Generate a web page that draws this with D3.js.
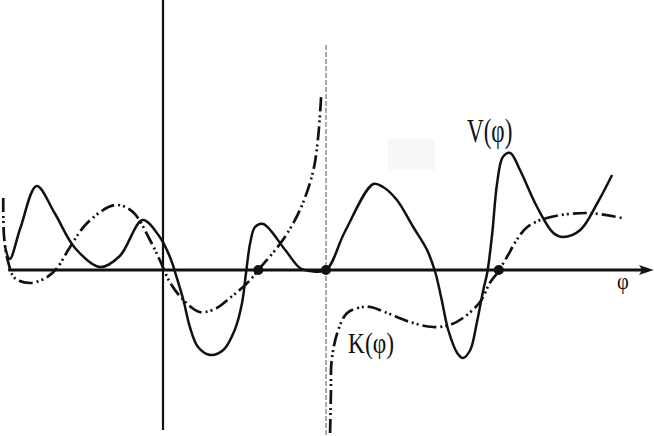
<!DOCTYPE html>
<html lang="en">
<head>
    <meta charset="UTF-8">
    <title>V(φ) and K(φ)</title>
    <script src="https://cdn.jsdelivr.net/npm/d3@7"></script>
    <style>
        body { margin: 0; background: #fff; }
        svg { display: block; }
        text { font-family: "Liberation Serif", "DejaVu Serif", serif; fill: #111; }
    </style>
</head>
<body>
<div id="d3"></div>
<script>
    var width = 654;
    var height = 436;

    // V(φ): solid curve
    var vPhi = [-1.94, -1.88, -1.75, -1.55, -1.33, -1.08, -0.77, -0.53, -0.25, -0.04,
                0.09, 0.17, 0.25, 0.33, 0.43, 0.58, 0.74, 0.88, 0.97, 1.02,
                1.07, 1.13, 1.23, 1.50, 1.68, 1.80, 2.00, 2.23, 2.58, 2.70,
                2.87, 3.07, 3.24, 3.34, 3.42, 3.50, 3.61, 3.68, 3.77, 3.85,
                3.93, 3.98, 4.04, 4.10, 4.17, 4.26, 4.38, 4.59, 4.79, 4.91,
                5.12, 5.33, 5.51];
    var vVal = [0.48, 0.22, 0.84, 1.68, 1.14, 0.44, 0.06, 0.28, 1.00, 0.66,
                0.24, -0.16, -0.60, -1.14, -1.54, -1.70, -1.60, -1.20, -0.66, -0.04,
                0.54, 0.86, 0.92, 0.40, 0.04, -0.02, 0.00, 0.76, 1.72, 1.66,
                1.40, 0.86, 0.40, -0.04, -0.60, -1.20, -1.66, -1.76, -1.60, -1.06,
                -0.40, -0.04, 0.74, 1.74, 2.26, 2.34, 2.00, 1.26, 0.74, 0.66,
                0.80, 1.34, 1.90];

    // K(φ): dash-dot curve, two branches either side of the pole at φ = 2
    var kLeftPhi = [-1.96, -1.95, -1.90, -1.82, -1.63, -1.42, -1.30, -1.14, -0.93, -0.59,
                    -0.37, -0.16, -0.04, 0.09, 0.25, 0.45, 0.66, 0.82, 0.94, 1.07,
                    1.17, 1.47, 1.68, 1.84, 1.90, 1.94];
    var kLeftVal = [1.44, 0.66, 0.16, -0.16, -0.26, -0.14, 0.04, 0.46, 0.94, 1.30,
                    1.16, 0.60, 0.20, -0.26, -0.60, -0.84, -0.76, -0.56, -0.40, -0.20,
                    0.00, 0.60, 1.20, 1.96, 2.60, 3.46];
    var kRightPhi = [2.05, 2.06, 2.07, 2.15, 2.26, 2.45, 2.55, 2.75, 3.03, 3.31,
                     3.52, 3.68, 3.89, 4.01, 4.11, 4.22, 4.34, 4.47, 4.71, 5.20,
                     5.63];
    var kRightVal = [-3.26, -2.50, -1.80, -1.20, -0.86, -0.74, -0.74, -0.86, -1.04, -1.14,
                     -1.10, -0.96, -0.64, -0.26, -0.04, 0.26, 0.60, 0.86, 1.04, 1.14,
                     1.04];

    // marked points on the φ axis and the pole
    var dotPhi = [1.17, 2.00, 4.12];
    var polePhi = 2.0;
    var labels = ["V(φ)", "K(φ)", "φ"];

    var x = d3.scaleLinear().domain([-2, 6]).range([0, 652]);
    var y = d3.scaleLinear().domain([-3, 3]).range([420, 120]);

    var svg = d3.select("#d3")
            .append("svg")
            .attr("width", width)
            .attr("height", height);

    var line = d3.line()
            .x(function (d) { return x(d[0]); })
            .y(function (d) { return y(d[1]); })
            .curve(d3.curveCatmullRom.alpha(0.5));

    // faint scan patch near the label
    svg.append("rect")
            .attr("x", x(2.76)).attr("y", y(2.62))
            .attr("width", 47).attr("height", 31)
            .attr("fill", "#f7f7f7");

    // axes
    svg.append("line")
            .attr("x1", x(0)).attr("x2", x(0))
            .attr("y1", y(5.4)).attr("y2", y(-3.2))
            .attr("stroke", "#111").attr("stroke-width", 2.2);

    svg.append("line")
            .attr("x1", x(polePhi)).attr("x2", x(polePhi))
            .attr("y1", y(4.5)).attr("y2", y(-3.4))
            .attr("stroke", "#555").attr("stroke-width", 1)
            .attr("stroke-dasharray", "5,2");

    svg.append("line")
            .attr("x1", x(-1.9)).attr("x2", x(5.88))
            .attr("y1", y(0)).attr("y2", y(0))
            .attr("stroke", "#111").attr("stroke-width", 3);

    svg.append("path")
            .attr("d", "M" + x(6.02) + "," + y(0) +
                    "L" + x(5.84) + "," + (y(0) - 5) +
                    "L" + x(5.88) + "," + y(0) +
                    "L" + x(5.84) + "," + (y(0) + 5) + "Z")
            .attr("fill", "#111");

    // curves
    [d3.zip(kLeftPhi, kLeftVal), d3.zip(kRightPhi, kRightVal)].forEach(function (pts) {
        svg.append("path")
                .datum(pts)
                .attr("d", line)
                .attr("fill", "none")
                .attr("stroke", "#111").attr("stroke-width", 2.7)
                .attr("stroke-dasharray", "14,4,2,3,2,4");
    });

    svg.append("path")
            .datum(d3.zip(vPhi, vVal))
            .attr("d", line)
            .attr("fill", "none")
            .attr("stroke", "#111").attr("stroke-width", 2.5)
            .attr("stroke-linejoin", "round");

    svg.selectAll("circle")
            .data(dotPhi)
            .enter()
            .append("circle")
            .attr("cx", function (d) { return x(d); })
            .attr("cy", y(0))
            .attr("r", 5)
            .attr("fill", "#111");

    // labels (condensed serif, as in the original figure)
    function label(t, px, py, size, sx) {
        svg.append("text")
                .attr("transform", "translate(" + x(px) + "," + y(py) + ") scale(" + sx + ",1)")
                .attr("font-size", size)
                .text(t);
    }
    label(labels[0], 3.73, 2.56, 33, 0.7);
    label(labels[1], 2.27, -1.66, 30, 0.78);
    label(labels[2], 5.57, -0.38, 24, 0.85);
</script>
</body>
</html>
